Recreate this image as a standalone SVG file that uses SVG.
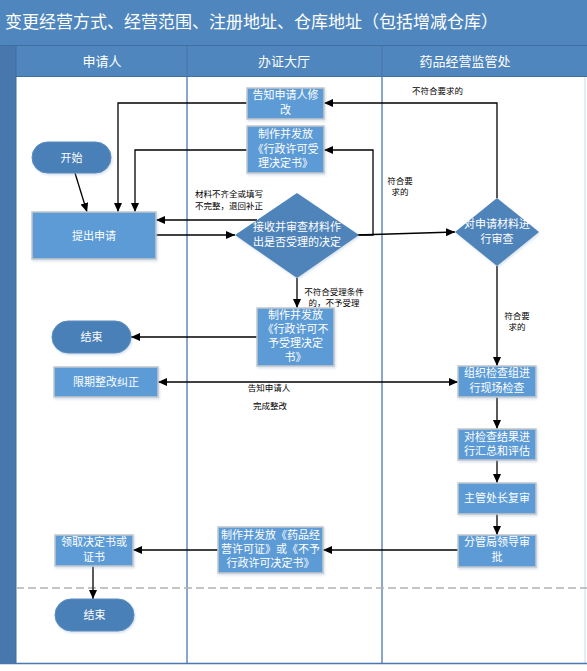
<svg xmlns="http://www.w3.org/2000/svg" width="587" height="671" viewBox="0 0 587 671">
<defs>
<marker id="arr" markerUnits="userSpaceOnUse" markerWidth="10" markerHeight="10" refX="9" refY="4" orient="auto-start-reverse">
<path d="M0,0 L9,4 L0,8 z" fill="#000"/>
</marker>
<filter id="sh" x="-10%" y="-10%" width="130%" height="140%">
<feDropShadow dx="1" dy="1.5" stdDeviation="1" flood-color="#8aa8c8" flood-opacity="0.35"/>
</filter>
<style>
text{font-family:"Liberation Sans","Noto Sans CJK SC",sans-serif;}
.title{font-size:17px;fill:#fff;}
.hdr{font-size:13px;fill:#fff;text-anchor:middle;}
.nt{font-size:11px;fill:#fff;text-anchor:middle;}
.lb{font-size:8.5px;fill:#000;}
.lbc{font-size:8.5px;fill:#000;text-anchor:middle;}
.box{fill:#5b9bd5;stroke:#c3c7cc;stroke-width:1.5;filter:url(#sh);}
.pill{fill:#4a80b7;stroke:#5a8cc0;stroke-width:1;filter:url(#sh);}
.dia{fill:#4f84ba;stroke:none;filter:url(#sh);}
.cn{fill:none;stroke:#000;stroke-width:1.3;marker-end:url(#arr);}
.lane{stroke:#4a78ad;stroke-width:1.3;fill:none;}
</style>
</defs>
<rect x="0" y="0" width="587" height="671" fill="#fff"/>
<g id="frame">
<rect x="0" y="0" width="587" height="46" fill="#4f86bd"/>
<line x1="0" y1="45.5" x2="587" y2="45.5" stroke="#3f6f9f" stroke-width="1"/>
<rect x="0" y="46" width="587" height="31" fill="#4f86bd"/>
<line x1="16" y1="76.5" x2="587" y2="76.5" stroke="#3f6f9f" stroke-width="1"/>
<rect x="0" y="46" width="16" height="618" fill="#4877ad"/>
<line x1="16" y1="46" x2="16" y2="664" stroke="#3f6f9f" stroke-width="1"/>
<line x1="187" y1="46" x2="187" y2="664" class="lane"/>
<line x1="382" y1="46" x2="382" y2="664" class="lane"/>
<line x1="585" y1="77" x2="585" y2="664" stroke="#dbe6f2" stroke-width="1.5"/>
<line x1="0" y1="663.5" x2="587" y2="663.5" stroke="#4a78ad" stroke-width="1.3"/>
<line x1="16" y1="588" x2="587" y2="588" stroke="#b3b3b3" stroke-width="1.5" stroke-dasharray="8,4"/>
<text class="title" x="5" y="28">变更经营方式、经营范围、注册地址、仓库地址（包括增减仓库）</text>
<text class="hdr" x="102" y="66">申请人</text>
<text class="hdr" x="284" y="66">办证大厅</text>
<text class="hdr" x="465" y="66">药品经营监管处</text>
</g>
<g id="connectors">
<line class="cn" x1="75" y1="173" x2="87" y2="212"/>
<path class="cn" d="M247,103 H118 V212"/>
<path class="cn" d="M247,150 H135 V212"/>
<path class="cn" d="M156,235 H235"/>
<path class="cn" d="M257,220 H156"/>
<path class="cn" d="M357,235 L455,232"/>
<path class="cn" d="M357,235 H373 V150 H324"/>
<path class="cn" d="M497,198 V103 H324"/>
<path class="cn" d="M497,266 V366"/>
<path class="cn" d="M297,278 V308"/>
<path class="cn" d="M257,337 H131"/>
<path class="cn" d="M158,382 H458" marker-start="url(#arr)"/>
<path class="cn" d="M497,397 V429"/>
<path class="cn" d="M497,460 V483"/>
<path class="cn" d="M497,514 V535"/>
<path class="cn" d="M458,550 H323"/>
<path class="cn" d="M218,550 H133"/>
<path class="cn" d="M93,566 V599"/>
<text class="lb" x="195" y="197">材料不齐全或填写</text>
<text class="lb" x="195" y="209">不完整，退回补正</text>
<text class="lb" x="412" y="94">不符合要求的</text>
<text class="lbc" x="400" y="184">符合要</text>
<text class="lbc" x="400" y="195">求的</text>
<text class="lbc" x="517" y="319">符合要</text>
<text class="lbc" x="517" y="330">求的</text>
<text class="lbc" x="334" y="295">不符合受理条件</text>
<text class="lbc" x="334" y="306">的，不予受理</text>
<text class="lbc" x="269" y="391">告知申请人</text>
<text class="lbc" x="270" y="409">完成整改</text>
</g>
<g id="start">
<rect class="pill" x="32" y="142" width="79" height="31" rx="15.5"/>
<text class="nt" x="71.5" y="162">开始</text>
</g>
<g id="submit">
<rect class="box" x="32" y="212" width="124" height="47"/>
<text class="nt" x="94" y="240">提出申请</text>
</g>
<g id="notify">
<rect class="box" x="247" y="88" width="77" height="31"/>
<text class="nt" x="285.5" y="99">告知申请人修</text>
<text class="nt" x="285.5" y="114">改</text>
</g>
<g id="accept">
<rect class="box" x="247" y="126" width="77" height="47"/>
<text class="nt" x="285.5" y="138">制作并发放</text>
<text class="nt" x="285.5" y="153">《行政许可受</text>
<text class="nt" x="285.5" y="167">理决定书》</text>
</g>
<g id="review1">
<polygon class="dia" points="297,193 359,235 297,278 235,235"/>
<text class="nt" x="297" y="231">接收并审查材料作</text>
<text class="nt" x="297" y="246">出是否受理的决定</text>
</g>
<g id="review2">
<polygon class="dia" points="497,198 539,232 497,266 455,232"/>
<text class="nt" x="497" y="228">对申请材料进</text>
<text class="nt" x="497" y="243">行审查</text>
</g>
<g id="reject">
<rect class="box" x="257" y="308" width="77" height="58"/>
<text class="nt" x="295.5" y="319">制作并发放</text>
<text class="nt" x="295.5" y="333">《行政许可不</text>
<text class="nt" x="295.5" y="347">予受理决定</text>
<text class="nt" x="295.5" y="361">书》</text>
</g>
<g id="end1">
<rect class="pill" x="52" y="321" width="79" height="32" rx="16"/>
<text class="nt" x="91.5" y="341">结束</text>
</g>
<g id="rectify">
<rect class="box" x="54" y="367" width="104" height="30"/>
<text class="nt" x="106" y="386">限期整改纠正</text>
</g>
<g id="inspect">
<rect class="box" x="458" y="366" width="78" height="31"/>
<text class="nt" x="497" y="377">组织检查组进</text>
<text class="nt" x="497" y="392">行现场检查</text>
</g>
<g id="evaluate">
<rect class="box" x="458" y="429" width="78" height="31"/>
<text class="nt" x="497" y="441">对检查结果进</text>
<text class="nt" x="497" y="455">行汇总和评估</text>
</g>
<g id="chief">
<rect class="box" x="458" y="483" width="78" height="31"/>
<text class="nt" x="497" y="502">主管处长复审</text>
</g>
<g id="approve">
<rect class="box" x="458" y="535" width="78" height="32"/>
<text class="nt" x="497" y="546">分管局领导审</text>
<text class="nt" x="497" y="561">批</text>
</g>
<g id="issue">
<rect class="box" x="218" y="527" width="105" height="46"/>
<text class="nt" x="270.5" y="539">制作并发放《药品经</text>
<text class="nt" x="270.5" y="553">营许可证》或《不予</text>
<text class="nt" x="270.5" y="567">行政许可决定书》</text>
</g>
<g id="collect">
<rect class="box" x="55" y="535" width="78" height="31"/>
<text class="nt" x="94" y="546">领取决定书或</text>
<text class="nt" x="94" y="561">证书</text>
</g>
<g id="end2">
<rect class="pill" x="55" y="599" width="79" height="32" rx="16"/>
<text class="nt" x="94.5" y="619">结束</text>
</g>
</svg>
